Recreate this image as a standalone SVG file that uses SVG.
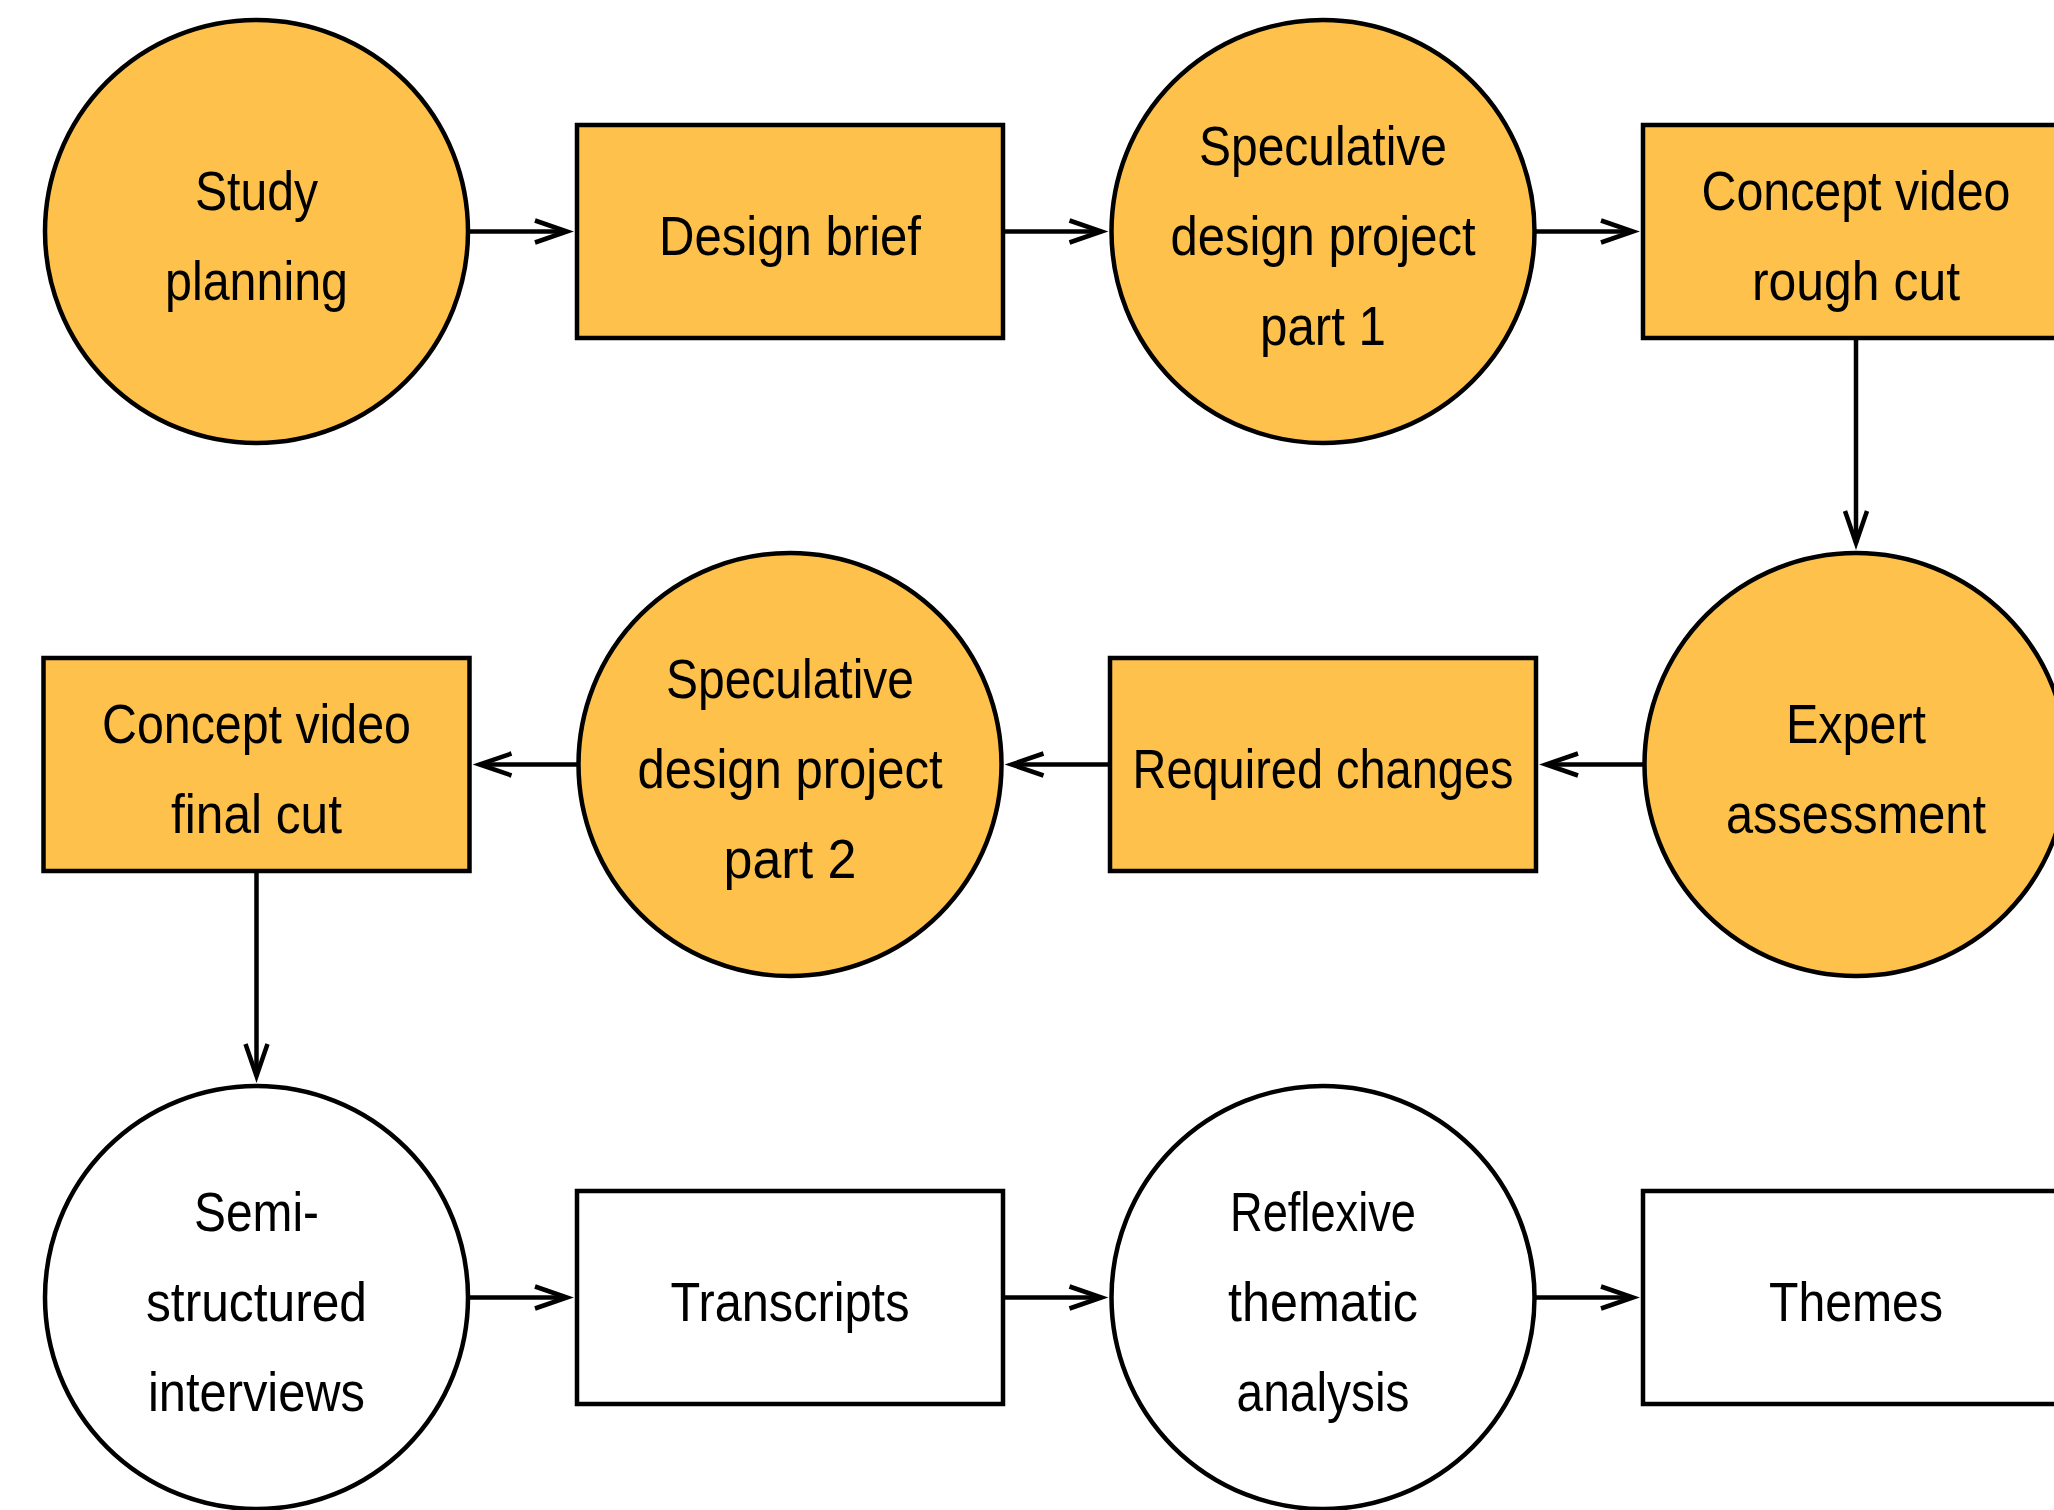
<svg xmlns="http://www.w3.org/2000/svg" width="2054" height="1510" viewBox="0 0 2054 1510">
<style>
.n{stroke:#000;stroke-width:4.5}
.y{fill:#FEC24C}
.w{fill:#FFFFFF}
text{font-family:"Liberation Sans Narrow","Liberation Sans",Arial,sans-serif;font-size:56px;fill:#000;text-anchor:middle}
.c{fill:none;stroke:#000;stroke-width:4.5}
</style>
<defs>
<marker id="ah" markerUnits="userSpaceOnUse" viewBox="-40 -20 50 40" refX="0" refY="0" markerWidth="50" markerHeight="40" orient="auto" overflow="visible">
<path d="M-32,-11 L0,0 L-32,11" fill="none" stroke="#000" stroke-width="4.5"/>
</marker>
</defs>
<rect width="2054" height="1510" fill="#FFFFFF"/>
<g id="connectors">
<path class="c" marker-end="url(#ah)" d="M468,231.5 H567"/>
<path class="c" marker-end="url(#ah)" d="M1003,231.5 H1101.5"/>
<path class="c" marker-end="url(#ah)" d="M1534.5,231.5 H1633"/>
<path class="c" marker-end="url(#ah)" d="M1856,338 V543"/>
<path class="c" marker-end="url(#ah)" d="M1644.5,764.5 H1546"/>
<path class="c" marker-end="url(#ah)" d="M1110,764.5 H1011.5"/>
<path class="c" marker-end="url(#ah)" d="M578.5,764.5 H479.5"/>
<path class="c" marker-end="url(#ah)" d="M256.5,871 V1076"/>
<path class="c" marker-end="url(#ah)" d="M468,1297.5 H567"/>
<path class="c" marker-end="url(#ah)" d="M1003,1297.5 H1101.5"/>
<path class="c" marker-end="url(#ah)" d="M1534.5,1297.5 H1633"/>
</g>
<g id="study-planning">
<circle class="n y" cx="256.5" cy="231.5" r="211.5"/>
<text x="256.5" y="209.5" textLength="123" lengthAdjust="spacingAndGlyphs">Study</text>
<text x="256.5" y="299.5" textLength="183" lengthAdjust="spacingAndGlyphs">planning</text>
</g>
<g id="design-brief">
<rect class="n y" x="577" y="125" width="426" height="213"/>
<text x="790" y="254.5" textLength="262" lengthAdjust="spacingAndGlyphs">Design brief</text>
</g>
<g id="speculative-1">
<circle class="n y" cx="1323" cy="231.5" r="211.5"/>
<text x="1323" y="164.5" textLength="248" lengthAdjust="spacingAndGlyphs">Speculative</text>
<text x="1323" y="254.5" textLength="305" lengthAdjust="spacingAndGlyphs">design project</text>
<text x="1323" y="344.5" textLength="126" lengthAdjust="spacingAndGlyphs">part 1</text>
</g>
<g id="rough-cut">
<rect class="n y" x="1643" y="125" width="426" height="213"/>
<text x="1856" y="209.5" textLength="309" lengthAdjust="spacingAndGlyphs">Concept video</text>
<text x="1856" y="299.5" textLength="208" lengthAdjust="spacingAndGlyphs">rough cut</text>
</g>
<g id="expert-assessment">
<circle class="n y" cx="1856" cy="764.5" r="211.5"/>
<text x="1856" y="742.5" textLength="140" lengthAdjust="spacingAndGlyphs">Expert</text>
<text x="1856" y="832.5" textLength="260" lengthAdjust="spacingAndGlyphs">assessment</text>
</g>
<g id="required-changes">
<rect class="n y" x="1110" y="658" width="426" height="213"/>
<text x="1323" y="787.5" textLength="381" lengthAdjust="spacingAndGlyphs">Required changes</text>
</g>
<g id="speculative-2">
<circle class="n y" cx="790" cy="764.5" r="211.5"/>
<text x="790" y="697.5" textLength="248" lengthAdjust="spacingAndGlyphs">Speculative</text>
<text x="790" y="787.5" textLength="305" lengthAdjust="spacingAndGlyphs">design project</text>
<text x="790" y="877.5" textLength="133" lengthAdjust="spacingAndGlyphs">part 2</text>
</g>
<g id="final-cut">
<rect class="n y" x="43.5" y="658" width="426" height="213"/>
<text x="256.5" y="742.5" textLength="309" lengthAdjust="spacingAndGlyphs">Concept video</text>
<text x="256.5" y="832.5" textLength="171" lengthAdjust="spacingAndGlyphs">final cut</text>
</g>
<g id="interviews">
<circle class="n w" cx="256.5" cy="1297.5" r="211.5"/>
<text x="256.5" y="1230.5" textLength="125" lengthAdjust="spacingAndGlyphs">Semi-</text>
<text x="256.5" y="1320.5" textLength="221" lengthAdjust="spacingAndGlyphs">structured</text>
<text x="256.5" y="1410.5" textLength="217" lengthAdjust="spacingAndGlyphs">interviews</text>
</g>
<g id="transcripts">
<rect class="n w" x="577" y="1191" width="426" height="213"/>
<text x="790" y="1320.5" textLength="239" lengthAdjust="spacingAndGlyphs">Transcripts</text>
</g>
<g id="thematic-analysis">
<circle class="n w" cx="1323" cy="1297.5" r="211.5"/>
<text x="1323" y="1230.5" textLength="186" lengthAdjust="spacingAndGlyphs">Reflexive</text>
<text x="1323" y="1320.5" textLength="190" lengthAdjust="spacingAndGlyphs">thematic</text>
<text x="1323" y="1410.5" textLength="173" lengthAdjust="spacingAndGlyphs">analysis</text>
</g>
<g id="themes">
<rect class="n w" x="1643" y="1191" width="426" height="213"/>
<text x="1856" y="1320.5" textLength="174" lengthAdjust="spacingAndGlyphs">Themes</text>
</g>
</svg>
